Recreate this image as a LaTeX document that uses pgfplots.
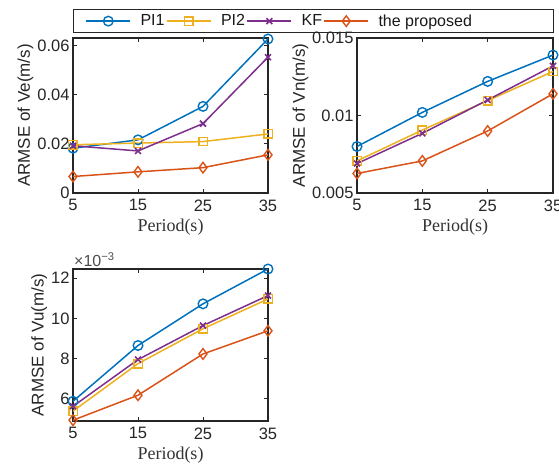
\documentclass[border=0pt]{standalone}
\usepackage{fontspec}
\setmainfont{Liberation Sans}
\newfontfamily\timesfont{Liberation Serif}
\usepackage{pgfplots}
\pgfplotsset{compat=1.18}

\definecolor{mBlue}{rgb}{0,0.447,0.741}
\definecolor{mOrange}{rgb}{0.85,0.325,0.098}
\definecolor{mYellow}{rgb}{0.929,0.694,0.125}
\definecolor{mPurple}{rgb}{0.494,0.184,0.556}

\pgfplotsset{
  armse/.style={
    scale only axis,
    xmin=5, xmax=35,
    xtick={5,15,25,35},
    tick align=inside,
    major tick length=4pt,
    axis line style={line width=1.3pt, black!85},
    every tick/.style={black!85, line width=0.9pt},
    tick label style={font=\fontsize{16.5}{18}\selectfont, text=black!85},
    xticklabel style={yshift=-3pt},
    /pgf/number format/assume math mode=true,
    xlabel={Period(s)},
    xlabel style={font=\timesfont\fontsize{18}{20}\selectfont, text=black!80, yshift=-1pt},
    ylabel style={font=\fontsize{17}{19}\selectfont, text=black!85, yshift=-3pt},
    scaled y ticks=false,
    every axis plot/.append style={line width=1.5pt},
    legend image code/.code={
      \draw[mark repeat=2,mark phase=2,##1] plot coordinates {(0pt,0pt) (22pt,0pt) (44pt,0pt)};
    },
  },
  sPI1/.style={mBlue, mark=o, mark size=4.8pt, mark options={line width=1.4pt}},
  sPI2/.style={mYellow, mark=square, mark size=4.2pt, mark options={line width=1.4pt}},
  sKF/.style={mPurple, mark=x, mark size=4.2pt, mark options={line width=1.6pt}},
  sPR/.style={mOrange, mark=diamond, mark size=5.3pt, mark options={line width=1.4pt}},
}

\begin{document}
\begin{tikzpicture}
\useasboundingbox (0,0) rectangle (559pt,474pt);

% Ve
\begin{axis}[armse, at={(73pt,281pt)}, anchor=south west,
    width=195pt, height=155pt,
    ymin=0, ymax=0.063,
    ytick={0,0.02,0.04,0.06}, yticklabels={0,0.02,0.04,0.06},
    ylabel={ARMSE of Ve(m/s)},
    legend columns=4,
    legend style={at={(0,1.187)}, anchor=north west, draw=black!85, line width=1.1pt,
      font=\fontsize{16}{18}\selectfont, inner xsep=12pt, inner ysep=3pt,
      /tikz/every odd column/.append style={column sep=8pt},
      nodes={inner xsep=1.5pt, text=black!90}},
  ]
\addplot[sPI1] coordinates {(5,0.0182) (15,0.0216) (25,0.0352) (35,0.0626)};
\addplot[sPI2] coordinates {(5,0.0196) (15,0.0203) (25,0.0209) (35,0.0240)};
\addplot[sKF] coordinates {(5,0.0192) (15,0.0171) (25,0.0282) (35,0.0552)};
\addplot[sPR] coordinates {(5,0.0067) (15,0.0086) (25,0.0103) (35,0.0155)};
\legend{PI1,PI2,KF,the proposed\hspace*{68pt}}
\end{axis}

% Vn
\begin{axis}[armse, at={(357pt,281pt)}, anchor=south west,
    width=196pt, height=155pt,
    ymin=0.005, ymax=0.015,
    ytick={0.005,0.01,0.015}, yticklabels={0.005,0.01,0.015},
    ylabel={ARMSE of Vn(m/s)},
  ]
\addplot[sPI1] coordinates {(5,0.0080) (15,0.0102) (25,0.0122) (35,0.0139)};
\addplot[sPI2] coordinates {(5,0.00707) (15,0.00906) (25,0.01096) (35,0.01284)};
\addplot[sKF] coordinates {(5,0.0069) (15,0.00885) (25,0.0110) (35,0.0132)};
\addplot[sPR] coordinates {(5,0.00626) (15,0.00707) (25,0.0090) (35,0.0114)};
\end{axis}

% Vu
\begin{axis}[armse, at={(73pt,53pt)}, anchor=south west,
    width=195pt, height=152pt,
    ymin=0.0049, ymax=0.01245,
    ytick={0.006,0.008,0.01,0.012}, yticklabels={6,8,10,12},
    ylabel={ARMSE of Vu(m/s)},
    extra description/.code={
      \node[anchor=south west, inner sep=1pt, yshift=1pt, font=\fontsize{16}{18}\selectfont, text=black!70]
        at (rel axis cs:0,1) {×10\textsuperscript{−3}};
    },
  ]
\addplot[sPI1] coordinates {(5,0.00588) (15,0.00865) (25,0.01072) (35,0.01245)};
\addplot[sPI2] coordinates {(5,0.00539) (15,0.00775) (25,0.00948) (35,0.01096)};
\addplot[sKF] coordinates {(5,0.00563) (15,0.00795) (25,0.00964) (35,0.01113)};
\addplot[sPR] coordinates {(5,0.00494) (15,0.00618) (25,0.00823) (35,0.00938)};
\end{axis}
\end{tikzpicture}
\end{document}
